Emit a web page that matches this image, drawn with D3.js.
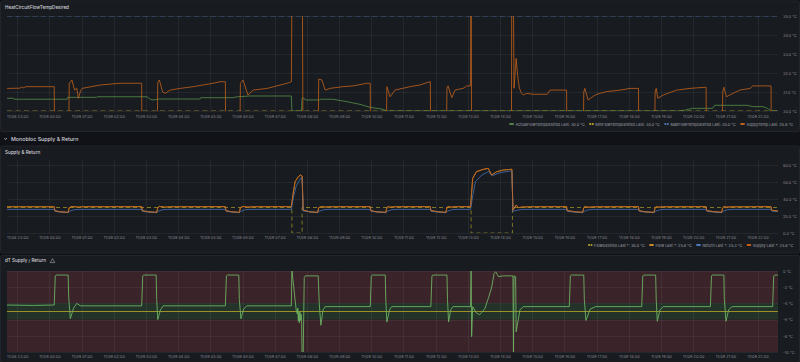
<!DOCTYPE html>
<html><head><meta charset="utf-8">
<script src="https://cdn.jsdelivr.net/npm/d3@7"></script>
<style>
html,body{margin:0;padding:0;background:#111217;overflow:hidden;}
svg{display:block;font-family:Inter,"Noto Sans",sans-serif;}
</style></head><body>
<svg id="c" width="800" height="362"></svg>
<script>
// ---------- DATA ----------
const timeStart = "11/08 22:41";
const timeEnd = "11/09 22:38";
const xTickLabels = ["11/08 23:00","11/09 00:00","11/09 01:00","11/09 02:00","11/09 03:00","11/09 04:00","11/09 05:00","11/09 06:00","11/09 07:00","11/09 08:00","11/09 09:00","11/09 10:00","11/09 11:00","11/09 12:00","11/09 13:00","11/09 14:00","11/09 15:00","11/09 16:00","11/09 17:00","11/09 18:00","11/09 19:00","11/09 20:00","11/09 21:00","11/09 22:00"];

const p1YTicks = [30,31,32,33,34,35];
const p2YTicks = [0,20,40,60,80];
const p3YTicks = [0,-2,-4,-6,-8,-10];

const p1Series = ["ActualFlowTempDesired","MinFlowTempDesired","MaxFlowTempDesired","SuppyTemp"];
const p1Last = ["30.0 °C","30.0 °C","35.0 °C","25.8 °C"];
const p2Series = ["FlowDesired","Flow","Return","Supply"];
const p2Last = ["30.0 °C","25.8 °C","25.3 °C","25.8 °C"];

const actualFlowTempDesired = [["11/08 22:41",30.67],["11/08 22:53",30.67],["11/08 22:54",30.62],["11/09 00:33",30.62],["11/09 00:34",30.72],["11/09 01:28",30.72],["11/09 01:29",30.75],["11/09 03:02",30.75],["11/09 03:08",30.62],["11/09 03:13",30.58],["11/09 03:25",30.63],["11/09 04:41",30.63],["11/09 04:42",30.7],["11/09 05:42",30.7],["11/09 05:50",30.75],["11/09 06:14",30.79],["11/09 07:31",30.79],["11/09 07:32",30.0],["11/09 07:50",30.0],["11/09 07:51",30.67],["11/09 07:55",30.67],["11/09 07:57",30.58],["11/09 08:24",30.58],["11/09 08:25",30.62],["11/09 08:48",30.62],["11/09 09:15",30.49],["11/09 09:39",30.35],["11/09 09:58",30.19],["11/09 10:22",30.09],["11/09 10:29",30.0],["11/09 19:35",30.0],["11/09 19:45",30.05],["11/09 19:59",30.14],["11/09 20:36",30.14],["11/09 20:40",30.3],["11/09 21:40",30.3],["11/09 21:51",30.23],["11/09 22:10",30.23],["11/09 22:18",30.14],["11/09 22:26",30.0],["11/09 22:38",30.0]];
const minFlowTempDesired = [["11/08 22:41",30],["11/09 22:38",30]];
const maxFlowTempDesired = [["11/08 22:41",35],["11/09 22:38",35]];
const suppyTemp = [["11/08 22:41",31.19],["11/08 23:05",31.2],["11/08 23:08",31.26],["11/08 23:12",31.22],["11/08 23:16",31.28],["11/09 00:09",31.28],["11/09 00:10",26],["11/09 00:35",26],["11/09 00:37",31.45],["11/09 00:42",31.63],["11/09 00:47",31.1],["11/09 00:51",31.2],["11/09 00:54",30.67],["11/09 00:58",31.05],["11/09 01:01",31.19],["11/09 01:35",31.37],["11/09 02:12",31.46],["11/09 02:52",31.46],["11/09 02:53",26],["11/09 03:20",26],["11/09 03:22",31.5],["11/09 03:25",31.63],["11/09 03:31",31.0],["11/09 03:36",30.93],["11/09 03:45",31.1],["11/09 04:04",31.19],["11/09 04:28",31.28],["11/09 05:05",31.46],["11/09 05:18",31.54],["11/09 05:28",31.54],["11/09 05:29",26],["11/09 05:54",26],["11/09 05:56",31.45],["11/09 06:01",31.63],["11/09 06:10",30.84],["11/09 06:20",31.1],["11/09 06:46",31.19],["11/09 07:04",31.32],["11/09 07:23",31.46],["11/09 07:31",31.54],["11/09 07:33",40],["11/09 07:51",40],["11/09 07:52",33],["11/09 07:53",26],["11/09 08:20",26],["11/09 08:22",31.68],["11/09 08:28",31.63],["11/09 08:34",31.1],["11/09 08:43",31.19],["11/09 09:07",31.28],["11/09 09:26",31.32],["11/09 09:52",31.46],["11/09 09:58",31.46],["11/09 09:59",26],["11/09 10:27",26],["11/09 10:29",31.28],["11/09 10:35",30.75],["11/09 10:44",31.1],["11/09 11:12",31.28],["11/09 11:31",31.37],["11/09 11:43",31.49],["11/09 11:50",31.54],["11/09 11:51",26],["11/09 12:19",26],["11/09 12:21",31.2],["11/09 12:23",31.32],["11/09 12:30",30.7],["11/09 12:36",31.1],["11/09 12:51",31.19],["11/09 12:58",31.32],["11/09 13:05",31.32],["11/09 13:06",40],["11/09 13:07",26],["11/09 14:21",26],["11/09 14:22",40],["11/09 14:24",40],["11/09 14:26",31.2],["11/09 14:30",32.77],["11/09 14:33",31.8],["11/09 14:36",31.2],["11/09 14:40",30.93],["11/09 14:43",30.84],["11/09 14:50",30.93],["11/09 15:01",30.88],["11/09 15:28",30.88],["11/09 15:33",31.1],["11/09 16:04",31.1],["11/09 16:05",26],["11/09 16:34",26],["11/09 16:36",31.0],["11/09 16:38",31.19],["11/09 16:44",30.58],["11/09 16:57",30.84],["11/09 17:06",30.93],["11/09 17:19",31.02],["11/09 17:44",31.1],["11/09 18:02",31.19],["11/09 18:18",31.19],["11/09 18:19",26],["11/09 18:47",26],["11/09 18:49",31.0],["11/09 18:51",31.19],["11/09 18:54",30.67],["11/09 19:04",30.84],["11/09 19:29",31.1],["11/09 19:54",31.19],["11/09 20:22",31.25],["11/09 20:24",31.25],["11/09 20:25",26],["11/09 20:53",26],["11/09 20:55",31.0],["11/09 20:57",31.25],["11/09 21:02",30.75],["11/09 21:14",30.93],["11/09 21:27",31.1],["11/09 21:46",31.19],["11/09 21:51",31.32],["11/09 22:25",31.32],["11/09 22:26",25.8],["11/09 22:38",25.8]];

const flowDesired = [["11/08 22:41",30],["11/09 07:32",0],["11/09 07:51",30],["11/09 13:06",0],["11/09 14:23",30],["11/09 22:38",30]];
const supply = [["11/08 22:41",30.9],["11/09 00:09",30.9],["11/09 00:10",26.3],["11/09 00:20",24.9],["11/09 00:35",24.3],["11/09 00:37",29.8],["11/09 00:42",31.3],["11/09 00:54",30.4],["11/09 01:01",30.9],["11/09 02:52",31.0],["11/09 02:53",26.3],["11/09 03:05",24.9],["11/09 03:20",24.3],["11/09 03:22",29.8],["11/09 03:25",31.3],["11/09 03:36",30.4],["11/09 03:45",30.9],["11/09 05:28",31.0],["11/09 05:29",26.3],["11/09 05:40",24.9],["11/09 05:54",24.3],["11/09 05:56",29.8],["11/09 06:01",31.3],["11/09 06:10",30.4],["11/09 06:20",30.9],["11/09 07:31",31.0],["11/09 07:34",45],["11/09 07:38",60.4],["11/09 07:44",66.3],["11/09 07:48",68.2],["11/09 07:51",67],["11/09 07:53",27],["11/09 08:05",24.9],["11/09 08:20",24.3],["11/09 08:22",29.8],["11/09 08:28",31.3],["11/09 08:34",30.5],["11/09 08:43",30.9],["11/09 09:58",31.0],["11/09 09:59",26.3],["11/09 10:10",24.9],["11/09 10:27",24.3],["11/09 10:29",29.8],["11/09 10:31",31.0],["11/09 10:35",30.4],["11/09 10:44",30.9],["11/09 11:50",31.0],["11/09 11:51",26.3],["11/09 12:05",24.9],["11/09 12:19",24.3],["11/09 12:21",29.8],["11/09 12:23",31.0],["11/09 12:30",30.4],["11/09 12:36",30.9],["11/09 13:05",31.0],["11/09 13:07",48],["11/09 13:09",64.3],["11/09 13:16",72.2],["11/09 13:29",74.9],["11/09 13:38",76.1],["11/09 13:44",68.2],["11/09 13:54",72.2],["11/09 14:06",74.1],["11/09 14:22",75],["11/09 14:24",27],["11/09 14:30",33],["11/09 14:34",29.8],["11/09 14:40",30.5],["11/09 15:00",30.9],["11/09 16:04",31.0],["11/09 16:05",26.3],["11/09 16:20",24.9],["11/09 16:34",24.3],["11/09 16:36",29.8],["11/09 16:38",31.0],["11/09 16:44",30.3],["11/09 16:57",30.8],["11/09 18:18",31.0],["11/09 18:19",26.3],["11/09 18:30",24.9],["11/09 18:47",24.3],["11/09 18:49",29.8],["11/09 18:51",31.0],["11/09 18:54",30.4],["11/09 19:04",30.8],["11/09 20:24",31.0],["11/09 20:25",26.3],["11/09 20:40",24.9],["11/09 20:53",24.3],["11/09 20:55",29.8],["11/09 20:57",31.0],["11/09 21:02",30.4],["11/09 21:14",30.8],["11/09 22:25",31.0],["11/09 22:26",26.8],["11/09 22:38",25.8]];
const flow = supply; // Flow trace overlays Supply in the picture
const returnTemp = [["11/08 22:41",27.8],["11/09 00:09",27.8],["11/09 00:11",25.3],["11/09 00:35",23.9],["11/09 00:38",25.5],["11/09 00:45",27.3],["11/09 00:55",27.8],["11/09 02:52",27.8],["11/09 02:54",25.3],["11/09 03:20",23.9],["11/09 03:23",25.5],["11/09 03:30",27.3],["11/09 03:40",27.8],["11/09 05:28",27.8],["11/09 05:30",25.3],["11/09 05:54",23.9],["11/09 05:57",25.5],["11/09 06:04",27.3],["11/09 06:14",27.8],["11/09 07:31",27.8],["11/09 07:35",42.7],["11/09 07:40",55],["11/09 07:48",64.3],["11/09 07:51",64],["11/09 07:53",25.8],["11/09 08:20",23.9],["11/09 08:23",25.5],["11/09 08:30",27.3],["11/09 08:40",27.8],["11/09 09:58",27.8],["11/09 10:00",25.3],["11/09 10:27",23.9],["11/09 10:30",25.5],["11/09 10:37",27.3],["11/09 10:47",27.8],["11/09 11:50",27.8],["11/09 11:52",25.3],["11/09 12:19",23.9],["11/09 12:22",25.5],["11/09 12:29",27.3],["11/09 12:39",27.8],["11/09 13:05",27.8],["11/09 13:08",40],["11/09 13:14",60.4],["11/09 13:26",68.2],["11/09 13:38",72.2],["11/09 13:46",67.5],["11/09 14:00",71],["11/09 14:19",72.9],["11/09 14:22",72.5],["11/09 14:24",25.5],["11/09 14:30",26.5],["11/09 14:40",27.8],["11/09 16:04",27.8],["11/09 16:06",25.3],["11/09 16:34",23.9],["11/09 16:37",25.5],["11/09 16:44",27.3],["11/09 16:54",27.8],["11/09 18:18",27.8],["11/09 18:20",25.3],["11/09 18:47",23.9],["11/09 18:50",25.5],["11/09 18:57",27.3],["11/09 19:07",27.8],["11/09 20:24",27.8],["11/09 20:26",25.3],["11/09 20:53",23.9],["11/09 20:56",25.5],["11/09 21:03",27.3],["11/09 21:13",27.8],["11/09 22:25",27.8],["11/09 22:27",25.6],["11/09 22:38",25.3]];

const dT = [["11/08 22:41",-4.2],["11/08 23:30",-4.25],["11/09 00:09",-4.2],["11/09 00:11",-0.6],["11/09 00:13",-0.5],["11/09 00:35",-0.5],["11/09 00:36",-3.2],["11/09 00:39",-5.9],["11/09 00:45",-4.6],["11/09 00:51",-4.0],["11/09 00:58",-4.3],["11/09 02:52",-4.3],["11/09 02:54",-0.6],["11/09 02:56",-0.5],["11/09 03:19",-0.5],["11/09 03:20",-3.5],["11/09 03:22",-6.0],["11/09 03:27",-4.8],["11/09 03:32",-4.3],["11/09 05:28",-4.3],["11/09 05:30",-0.6],["11/09 05:32",-0.5],["11/09 05:53",-0.5],["11/09 05:54",-3.5],["11/09 05:57",-5.9],["11/09 06:02",-4.7],["11/09 06:08",-4.3],["11/09 07:31",-4.3],["11/09 07:32",0.8],["11/09 07:33",-0.5],["11/09 07:37",-3.0],["11/09 07:40",-4.8],["11/09 07:42",-5.3],["11/09 07:43",-4.6],["11/09 07:44",-6.2],["11/09 07:45",-5.0],["11/09 07:46",-6.4],["11/09 07:47",-5.1],["11/09 07:48",-6.1],["11/09 07:49",-5.3],["11/09 07:50",-5.8],["11/09 07:51",-10.5],["11/09 07:53",-10.5],["11/09 07:55",-0.8],["11/09 07:57",-0.6],["11/09 08:21",-0.6],["11/09 08:23",-4],["11/09 08:26",-6.7],["11/09 08:30",-4.8],["11/09 08:34",-4.4],["11/09 09:58",-4.4],["11/09 10:00",-0.6],["11/09 10:02",-0.5],["11/09 10:26",-0.5],["11/09 10:27",-3.5],["11/09 10:29",-6.3],["11/09 10:34",-4.8],["11/09 10:38",-4.4],["11/09 11:51",-4.4],["11/09 11:53",-0.6],["11/09 11:55",-0.5],["11/09 12:21",-0.5],["11/09 12:22",-3.5],["11/09 12:24",-6.3],["11/09 12:28",-4.8],["11/09 12:32",-4.4],["11/09 13:05",-4.4],["11/09 13:06",0.8],["11/09 13:07",-8.1],["11/09 13:09",-4.4],["11/09 13:16",-5.2],["11/09 13:22",-5.4],["11/09 13:26",-5.1],["11/09 13:32",-4.6],["11/09 13:38",-3.4],["11/09 13:44",-2.1],["11/09 13:49",-0.3],["11/09 13:52",-0.1],["11/09 13:57",-0.7],["11/09 14:06",-0.6],["11/09 14:24",-0.6],["11/09 14:25",-10.5],["11/09 14:26",-0.6],["11/09 14:29",-0.7],["11/09 14:30",-7.5],["11/09 14:37",-4.8],["11/09 14:43",-4.4],["11/09 16:09",-4.4],["11/09 16:11",-0.6],["11/09 16:13",-0.5],["11/09 16:36",-0.5],["11/09 16:37",-3.5],["11/09 16:40",-6.1],["11/09 16:48",-4.7],["11/09 16:58",-4.4],["11/09 18:24",-4.4],["11/09 18:26",-0.6],["11/09 18:28",-0.5],["11/09 18:50",-0.5],["11/09 18:51",-3.5],["11/09 18:53",-6.2],["11/09 18:58",-4.8],["11/09 19:04",-4.4],["11/09 20:32",-4.4],["11/09 20:34",-0.6],["11/09 20:36",-0.5],["11/09 20:57",-0.5],["11/09 20:58",-3.5],["11/09 21:01",-6.2],["11/09 21:06",-4.8],["11/09 21:12",-4.4],["11/09 22:28",-4.4],["11/09 22:30",-0.6],["11/09 22:32",-0.5],["11/09 22:38",-0.5]];
const dTTarget = [["11/08 22:41",-5],["11/09 22:38",-5]];
const dTThresholds = [[0,-4,"bad"],[-4,-6,"ok"],[-6,-10,"bad"]];

// ---------- DRAWING ----------
const svg = d3.select("#c");
const parse = d3.timeParse("%m/%d %H:%M");
const fmt = d3.timeFormat("%m/%d %H:%M");
const L = 7, R = 778;
const x = d3.scaleTime().domain([parse(timeStart), parse(timeEnd)]).range([L, R]);
const xTicks = xTickLabels.map(parse);
const TXT = "rgba(204,204,220,0.62)";
const GRID = "rgba(204,204,220,0.07)";

svg.append("rect").attr("width",800).attr("height",362).attr("fill","#111217");

function panelBox(y, h){
  svg.append("rect").attr("x",0.5).attr("y",y).attr("width",799).attr("height",h)
    .attr("rx",2).attr("fill","#181b1f").attr("stroke","#22252a").attr("stroke-width",1);
}
function title(txt, y){
  svg.append("text").attr("x",5).attr("y",y).attr("dominant-baseline","central")
    .attr("font-size",4.6).attr("font-weight",500).attr("fill","#d0d1db").text(txt);
}
let clipN = 0;
function plot(cfg){
  const y = d3.scaleLinear().domain(cfg.domain).range([cfg.bottom, cfg.top]);
  const g = svg.append("g");
  const id = "clip"+(clipN++);
  svg.append("clipPath").attr("id",id).append("rect")
    .attr("x",L).attr("y",cfg.top).attr("width",R-L).attr("height",cfg.bottom-cfg.top);
  if (cfg.bands) {
    g.selectAll("rect.band").data(cfg.bands).join("rect")
      .attr("x",L).attr("width",R-L)
      .attr("y",d=>y(d[0])).attr("height",d=>y(d[1])-y(d[0]))
      .attr("fill",d=>d[2]==="ok" ? "#24332a" : "#3a2329");
  }
  g.selectAll("line.vg").data(xTicks).join("line")
    .attr("x1",d=>Math.round(x(d))+0.5).attr("x2",d=>Math.round(x(d))+0.5)
    .attr("y1",cfg.top).attr("y2",cfg.bottom).attr("stroke",GRID);
  g.selectAll("line.hg").data(cfg.yTicks).join("line")
    .attr("x1",L).attr("x2",R).attr("y1",d=>Math.round(y(d))+0.5).attr("y2",d=>Math.round(y(d))+0.5)
    .attr("stroke",GRID);
  const xa = svg.append("g").attr("transform",`translate(0,${cfg.bottom})`)
    .call(d3.axisBottom(x).tickValues(xTicks).tickFormat(fmt).tickSize(0).tickPadding(cfg.xPad));
  xa.select(".domain").remove();
  xa.selectAll("text").attr("font-size",3.9).attr("fill",TXT).attr("font-family","Inter");
  const ya = svg.append("g").attr("transform",`translate(${R},0)`)
    .call(d3.axisRight(y).tickValues(cfg.yTicks).tickFormat(cfg.yFmt).tickSize(0).tickPadding(5));
  ya.select(".domain").remove();
  ya.selectAll("text").attr("font-size",3.9).attr("fill",TXT).attr("font-family","Inter");
  const sg = svg.append("g").attr("clip-path",`url(#${id})`);
  cfg.series.forEach(s=>{
    const line = d3.line().x(d=>x(parse(d[0]))).y(d=>y(d[1])).curve(s.curve || d3.curveLinear);
    sg.append("path").attr("d",line(s.data)).attr("fill","none")
      .attr("stroke",s.color).attr("stroke-width",s.width||0.8)
      .attr("stroke-dasharray",s.dash||null).attr("stroke-linejoin","round");
  });
  return y;
}
function legend(items, yc, right){
  let xr = right;
  for (let i = items.length-1; i >= 0; i--) {
    const it = items[i];
    const t = svg.append("text").attr("y",yc).attr("dominant-baseline","central")
      .attr("font-size",3.9).attr("fill","rgba(204,204,220,0.75)").text(it.label);
    const w = t.node().getComputedTextLength();
    t.attr("x", xr - w);
    const sx = xr - w - 6;
    if (it.dash) {
      svg.append("rect").attr("x",sx).attr("y",yc-0.8).attr("width",1.8).attr("height",1.6).attr("fill",it.color);
      svg.append("rect").attr("x",sx+2.5).attr("y",yc-0.8).attr("width",1.8).attr("height",1.6).attr("fill",it.color);
    } else {
      svg.append("rect").attr("x",sx).attr("y",yc-0.8).attr("width",4.3).attr("height",1.6).attr("fill",it.color);
    }
    xr = sx - 4.5;
  }
}

// Panel 1
panelBox(1, 130.5);
title("HeatCircuitFlowTempDesired", 7.5);
plot({top:16, bottom:111, domain:[30,35], yTicks:p1YTicks, yFmt:d=>d.toFixed(1)+" °C", xPad:4.3,
  series:[
    {data:actualFlowTempDesired, color:"#55904a"},
    {data:minFlowTempDesired, color:"#a8972a", dash:"5,3.5"},
    {data:maxFlowTempDesired, color:"#46689a", dash:"5,3.5"},
    {data:suppyTemp, color:"#c4621c"}
  ]});
const p1Colors = ["#629f55","#d6bd2c","#5a86c8","#e0711d"];
const p1Dash = [false,true,true,false];
legend(p1Series.map((n,i)=>({label:`${n}  Last: ${p1Last[i]}`, color:p1Colors[i], dash:p1Dash[i]})), 124, 793);

// Row header
svg.append("path").attr("d","M4.2,138 L5.6,139.6 L7,138").attr("fill","none").attr("stroke","#ccccdc").attr("stroke-width",0.7);
svg.append("text").attr("x",11).attr("y",139).attr("dominant-baseline","central")
  .attr("font-size",5.3).attr("font-weight",500).attr("fill","#d0d1db").text("Monobloc Supply & Return");

// Panel 2
panelBox(146, 107);
title("Supply & Return", 152);
plot({top:160, bottom:233, domain:[0,85.9], yTicks:p2YTicks, yFmt:d=>d.toFixed(1)+" °C", xPad:3.2,
  series:[
    {data:flowDesired, color:"#999026", dash:"4,3", curve:d3.curveStepAfter},
    {data:flow, color:"#d08c2a"},
    {data:returnTemp, color:"#4372b8"},
    {data:supply, color:"#c8661e"}
  ]});
const p2Colors = ["#c9b52a","#f0a52e","#5a8fe6","#f06a14"];
legend(p2Series.map((n,i)=>({label:`${n}  Last *: ${p2Last[i]}`, color:p2Colors[i], dash:i===0})), 245, 793.3);

// Panel 3
panelBox(255.5, 110);
title("dT Supply / Return", 260.7);
svg.append("path").attr("d","M52.5,258.6 L54.8,262.6 L50.2,262.6 Z").attr("fill","none")
  .attr("stroke","#b8b9c2").attr("stroke-width",0.55).attr("stroke-linejoin","round");
plot({top:271, bottom:352, domain:[-10,0], yTicks:p3YTicks, yFmt:d=>d+" °C", xPad:3, bands:dTThresholds,
  series:[
    {data:dTTarget, color:"#9c9127", width:1},
    {data:dT, color:"#6db061", width:0.9}
  ]});
</script></body></html>
